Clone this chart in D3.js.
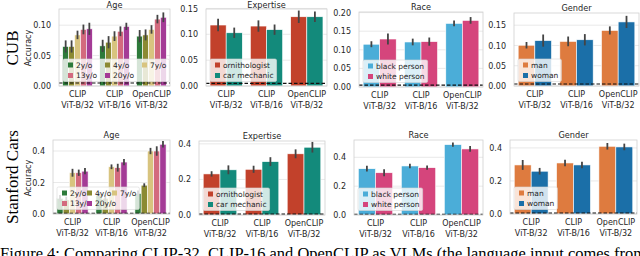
<!DOCTYPE html>
<html>
<head>
<meta charset="utf-8">
<script src="https://cdn.jsdelivr.net/npm/d3@7"></script>
<style>
  body { margin: 0; background: #fff; }
  svg { display: block; }
  text { font-family: "DejaVu Sans", sans-serif; fill: #262626; }
  .serif { font-family: "Liberation Serif", "Times New Roman", serif; fill: #000; }
</style>
</head>
<body>
<svg width="640" height="256"></svg>
<script>
// ---- data ----
var modelNames = ["CLIP", "CLIP", "OpenCLIP"];
var modelArch = ["ViT-B/32", "ViT-B/16", "ViT-B/32"];

var ageGroups = ["2y/o", "4y/o", "7y/o", "13y/o", "20y/o"];
var expertiseGroups = ["ornithologist", "car mechanic"];
var raceGroups = ["black person", "white person"];
var genderGroups = ["man", "woman"];

var ageColors = ["#2d7a3a", "#8b8a32", "#d8c47f", "#d36a7e", "#a43b96"];
var expertiseColors = ["#c2412b", "#138a7b"];
var raceColors = ["#4badd8", "#d5457c"];
var genderColors = ["#de7b3f", "#1b6fa8"];

// CUB (rows = hue, cols = model)
var cubAge = [[0.065, 0.066, 0.082], [0.065, 0.072, 0.084], [0.084, 0.082, 0.093], [0.093, 0.090, 0.110], [0.094, 0.098, 0.113]];
var cubAgeErr = [[0.010, 0.010, 0.010], [0.010, 0.010, 0.009], [0.007, 0.008, 0.007], [0.008, 0.008, 0.007], [0.010, 0.006, 0.008]];
var cubExpertise = [[0.118, 0.116, 0.134], [0.103, 0.109, 0.134]];
var cubExpertiseErr = [[0.012, 0.011, 0.012], [0.010, 0.010, 0.010]];
var cubRace = [[0.115, 0.121, 0.171], [0.129, 0.122, 0.179]];
var cubRaceErr = [[0.008, 0.009, 0.008], [0.015, 0.011, 0.009]];
var cubGender = [[0.1005, 0.110, 0.137], [0.112, 0.114, 0.158]];
var cubGenderErr = [[0.008, 0.012, 0.010], [0.015, 0.014, 0.015]];
var cubChance = 0.005;

// Stanford Cars
var carsAge = [[0.10, 0.12, 0.13], [0.09, 0.10, 0.183], [0.262, 0.300, 0.400], [0.262, 0.294, 0.400], [0.272, 0.330, 0.443]];
var carsAgeErr = [[0.02, 0.02, 0.02], [0.02, 0.02, 0.012], [0.025, 0.015, 0.02], [0.02, 0.025, 0.03], [0.02, 0.02, 0.02]];
var carsExpertise = [[0.231, 0.257, 0.344], [0.254, 0.300, 0.381]];
var carsExpertiseErr = [[0.015, 0.02, 0.025], [0.025, 0.025, 0.03]];
var carsRace = [[0.321, 0.340, 0.488], [0.293, 0.328, 0.458]];
var carsRaceErr = [[0.02, 0.015, 0.015], [0.025, 0.015, 0.02]];
var carsGender = [[0.297, 0.309, 0.410], [0.259, 0.297, 0.406]];
var carsGenderErr = [[0.03, 0.02, 0.02], [0.02, 0.02, 0.02]];
var carsChance = 0.005;

var cubTicks = {
  age: [0, 0.05, 0.10], expertise: [0, 0.05, 0.10, 0.15],
  race: [0, 0.05, 0.10, 0.15, 0.20], gender: [0, 0.05, 0.10, 0.15]
};
var carsTicks = [0, 0.2, 0.4];

// ---- layout ----
var svg = d3.select("svg");

var panels = [
  {title: "Age", groups: ageGroups, colors: ageColors, vals: cubAge, err: cubAgeErr, chance: cubChance,
   ticks: cubTicks.age, fmt: ".2f", x0: 59, x1: 170, y0: 9, y1: 86, ymax: 0.1266, ncol: 3, colGap: 37},
  {title: "Expertise", groups: expertiseGroups, colors: expertiseColors, vals: cubExpertise, err: cubExpertiseErr, chance: cubChance,
   ticks: cubTicks.expertise, fmt: ".2f", x0: 206, x1: 327, y0: 9, y1: 86, ymax: 0.149, ncol: 1},
  {title: "Race", groups: raceGroups, colors: raceColors, vals: cubRace, err: cubRaceErr, chance: cubChance,
   ticks: cubTicks.race, fmt: ".2f", x0: 359, x1: 483, y0: 12, y1: 87, ymax: 0.2016, ncol: 1},
  {title: "Gender", groups: genderGroups, colors: genderColors, vals: cubGender, err: cubGenderErr, chance: cubChance,
   ticks: cubTicks.gender, fmt: ".2f", x0: 514, x1: 639, y0: 13, y1: 86, ymax: 0.18, ncol: 1},

  {title: "Age", groups: ageGroups, colors: ageColors, vals: carsAge, err: carsAgeErr, chance: carsChance,
   ticks: carsTicks, fmt: ".1f", x0: 53, x1: 170, y0: 140, y1: 214, ymax: 0.47, ncol: 3, colGap: 25},
  {title: "Expertise", groups: expertiseGroups, colors: expertiseColors, vals: carsExpertise, err: carsExpertiseErr, chance: carsChance,
   ticks: carsTicks, fmt: ".1f", x0: 199, x1: 325, y0: 141, y1: 215, ymax: 0.416, ncol: 1},
  {title: "Race", groups: raceGroups, colors: raceColors, vals: carsRace, err: carsRaceErr, chance: carsChance,
   ticks: carsTicks, fmt: ".1f", x0: 354, x1: 483, y0: 140, y1: 215, ymax: 0.52, ncol: 1},
  {title: "Gender", groups: genderGroups, colors: genderColors, vals: carsGender, err: carsGenderErr, chance: carsChance,
   ticks: carsTicks, fmt: ".1f", x0: 510, x1: 637, y0: 140, y1: 214, ymax: 0.448, ncol: 1}
];

panels.forEach(function(p) {
  var g = svg.append("g");
  var x = d3.scaleBand().domain([0, 1, 2]).range([p.x0, p.x1]).paddingInner(0.2).paddingOuter(0.1);
  var xh = d3.scaleBand().domain(d3.range(p.groups.length)).range([0, x.bandwidth()]);
  var y = d3.scaleLinear().domain([0, p.ymax]).range([p.y1, p.y0]);

  // grid
  g.selectAll(".grid").data(p.ticks).enter().append("line")
    .attr("x1", p.x0).attr("x2", p.x1)
    .attr("y1", function(d) { return y(d); }).attr("y2", function(d) { return y(d); })
    .attr("stroke", "#e3e3e3").attr("stroke-width", 0.8);

  // bars
  p.groups.forEach(function(h, hi) {
    var bars = g.append("g");
    bars.selectAll("rect").data(p.vals[hi]).enter().append("rect")
      .attr("x", function(d, i) { return x(i) + xh(hi); })
      .attr("width", xh.bandwidth())
      .attr("y", function(d) { return y(d); })
      .attr("height", function(d) { return y(0) - y(d); })
      .attr("fill", p.colors[hi])
      .attr("stroke", "#fff").attr("stroke-width", 0.6);
    bars.selectAll("line").data(p.vals[hi]).enter().append("line")
      .attr("x1", function(d, i) { return x(i) + xh(hi) + xh.bandwidth() / 2; })
      .attr("x2", function(d, i) { return x(i) + xh(hi) + xh.bandwidth() / 2; })
      .attr("y1", function(d, i) { return y(d - p.err[hi][i]); })
      .attr("y2", function(d, i) { return y(d + p.err[hi][i]); })
      .attr("stroke", "#444").attr("stroke-width", 1.8);
  });

  // chance line
  g.append("line")
    .attr("x1", p.x0).attr("x2", p.x1)
    .attr("y1", y(p.chance)).attr("y2", y(p.chance))
    .attr("stroke", "#111").attr("stroke-width", 1.1).attr("stroke-dasharray", "3.5,2");

  // frame
  g.append("rect")
    .attr("x", p.x0).attr("y", p.y0)
    .attr("width", p.x1 - p.x0).attr("height", p.y1 - p.y0)
    .attr("fill", "none").attr("stroke", "#d0d0d0").attr("stroke-width", 0.8);

  // y axis
  var ya = g.append("g").attr("transform", "translate(" + (p.x0 - 5) + ",0)")
    .call(d3.axisLeft(y).tickValues(p.ticks).tickSize(0).tickFormat(d3.format(p.fmt)));
  ya.select(".domain").remove();
  ya.selectAll("text").attr("font-size", 8).attr("fill", "#262626").style("font-family", "DejaVu Sans");

  // x labels
  var xl = g.selectAll(".xl").data(modelNames).enter().append("text")
    .attr("x", function(d, i) { return x(i) + x.bandwidth() / 2; })
    .attr("y", p.y1 + 11)
    .attr("text-anchor", "middle").attr("font-size", 8);
  xl.append("tspan").text(function(d) { return d; });
  xl.append("tspan")
    .attr("x", function(d, i) { return x(i) + x.bandwidth() / 2; })
    .attr("dy", 10.5)
    .text(function(d, i) { return modelArch[i]; });

  // title
  g.append("text")
    .attr("x", (p.x0 + p.x1) / 2).attr("y", Math.max(p.y0 - 2.5, 8))
    .attr("text-anchor", "middle").attr("font-size", 8.2)
    .text(p.title);

  // legend
  var lg = g.append("g");
  var box = lg.append("rect");
  var lx = p.x0 + 4, ly = p.y1 - 27;
  var maxRight = lx;
  p.groups.forEach(function(h, hi) {
    var col = hi % p.ncol, row = Math.floor(hi / p.ncol);
    var cx = lx + 5 + col * (p.colGap || 0);
    var cy = ly + 6 + row * 10.5;
    lg.append("rect").attr("x", cx).attr("y", cy - 2.5).attr("width", 5).attr("height", 5)
      .attr("fill", p.colors[hi]);
    var t = lg.append("text").attr("x", cx + 8).attr("y", cy + 2.7)
      .attr("font-size", 7.5).text(h);
    maxRight = Math.max(maxRight, cx + 8 + t.node().getComputedTextLength());
  });
  var rows = Math.ceil(p.groups.length / p.ncol);
  box.attr("x", lx).attr("y", ly)
    .attr("width", maxRight - lx + 3).attr("height", rows * 10.5 + 1.5)
    .attr("rx", 1.5)
    .attr("fill", "rgba(255,255,255,0.8)").attr("stroke", "#d6d6d6").attr("stroke-width", 0.6);
});

// axis labels and row labels
[48, 178].forEach(function(cy) {
  svg.append("text")
    .attr("transform", "translate(31," + cy + ") rotate(-90)")
    .attr("text-anchor", "middle").attr("font-size", 8)
    .text("Accuracy");
});

svg.append("text").attr("class", "serif")
  .attr("transform", "translate(18,48) rotate(-90)")
  .attr("text-anchor", "middle").attr("font-size", 17)
  .text("CUB");
svg.append("text").attr("class", "serif")
  .attr("transform", "translate(18,177) rotate(-90)")
  .attr("text-anchor", "middle").attr("font-size", 17)
  .text("Stanford Cars");

// caption (cut off at the bottom edge, as in the source)
svg.append("text").attr("class", "serif")
  .attr("x", 0).attr("y", 259)
  .attr("font-size", 16)
  .attr("textLength", 646).attr("lengthAdjust", "spacingAndGlyphs")
  .text("Figure 4: Comparing CLIP-32, CLIP-16 and OpenCLIP as VLMs (the language input comes from");
</script>
</body>
</html>
